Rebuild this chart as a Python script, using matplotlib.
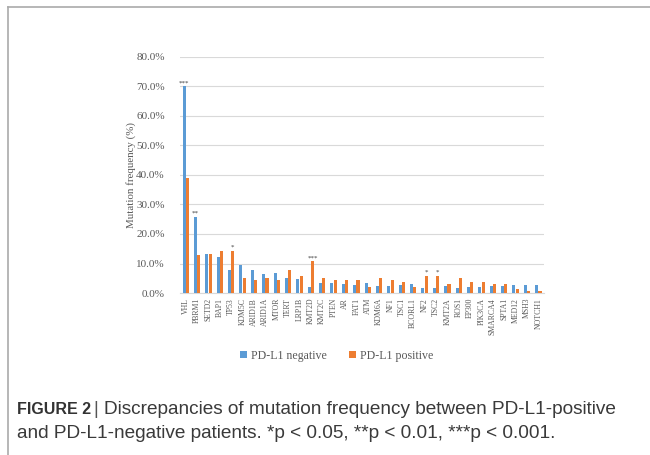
import matplotlib.pyplot as plt
from matplotlib.lines import Line2D
from matplotlib.ticker import PercentFormatter
import numpy as np

genes = ['VHL', 'PBRM1', 'SETD2', 'BAP1', 'TP53', 'KDM5C', 'ARID1B', 'ARID1A',
         'MTOR', 'TERT', 'LRP1B', 'KMT2D', 'KMT2C', 'PTEN', 'AR', 'FAT1', 'ATM',
         'KDM6A', 'NF1', 'TSC1', 'BCORL1', 'NF2', 'TSC2', 'KMT2A', 'ROS1',
         'EP300', 'PIK3CA', 'SMARCA4', 'SPTA1', 'MED12', 'MSH3', 'NOTCH1']

# mutation frequency (%)
neg = [70.0, 25.9, 13.1, 12.1, 7.8, 9.5, 7.8, 6.6, 6.8, 5.2, 4.6, 2.1, 3.4,
       3.5, 3.2, 2.8, 3.5, 2.3, 2.5, 2.8, 3.2, 1.7, 1.7, 2.5, 1.7, 1.9, 1.9,
       2.3, 2.3, 2.6, 2.8, 2.8]
pos = [38.8, 12.9, 13.1, 14.2, 14.2, 5.0, 4.3, 5.0, 4.3, 7.9, 5.8, 10.7, 5.0,
       4.4, 4.4, 4.4, 2.1, 5.1, 4.4, 3.7, 2.1, 5.9, 5.9, 2.9, 5.1, 3.6, 3.6,
       2.9, 2.9, 1.3, 0.6, 0.6]

# significance marks: (gene, series, label)
stars = [('VHL', 'neg', '***'), ('PBRM1', 'neg', '**'), ('TP53', 'pos', '*'),
         ('KMT2D', 'pos', '***'), ('NF2', 'pos', '*'), ('TSC2', 'pos', '*')]

blue = '#5B9BD5'
orange = '#ED7D31'
txt = '#595959'
serif = ['Liberation Serif', 'DejaVu Serif']

fig = plt.figure(figsize=(6.5, 4.55), dpi=100)
ax = fig.add_axes([0.277, 0.356, 0.56, 0.519])

x = np.arange(len(genes))
w = 0.27
ax.bar(x - 0.145, neg, w, color=blue, label='PD-L1 negative', zorder=3)
ax.bar(x + 0.145, pos, w, color=orange, label='PD-L1 positive', zorder=3)

for g, s, lab in stars:
    i = genes.index(g)
    if s == 'neg':
        xx, yy = i - 0.145, neg[i]
    else:
        xx, yy = i + 0.145, pos[i]
    ax.text(xx, yy + 0.4, lab, ha='center', va='bottom', fontsize=5,
            color='#404040', family=serif)

ax.set_xlim(-0.5, len(genes) - 0.5)
ax.set_ylim(0, 80)
ax.yaxis.set_major_formatter(PercentFormatter(decimals=1))
ax.set_yticks(np.arange(0, 81, 10))
ax.grid(axis='y', color='#d9d9d9', linewidth=0.8, zorder=0)
ax.set_axisbelow(True)
for sp in ['top', 'right', 'left']:
    ax.spines[sp].set_visible(False)
ax.spines['bottom'].set_color('#d9d9d9')
ax.tick_params(axis='both', length=0, colors=txt)
ax.tick_params(axis='y', pad=11)
ax.set_xticks(x)
ax.set_xticklabels(genes, rotation=90, fontsize=5.6, family=serif, color=txt)
for t in ax.get_yticklabels():
    t.set_fontsize(8)
    t.set_family(serif)
ax.set_ylabel('Mutation frequency (%)', fontsize=7.8, family=serif, color=txt,
              labelpad=0)

ax.legend(loc='center', bbox_to_anchor=(0.43, -0.265), ncol=2, frameon=False,
          prop={'family': serif, 'size': 8.6}, labelcolor=txt,
          handlelength=0.6, handleheight=0.6, handletextpad=0.3,
          columnspacing=1.9)

# panel border (top and left only)
fig.add_artist(Line2D([8 / 650, 8 / 650], [0, 1 - 6.5 / 455],
                      transform=fig.transFigure, color='#aaaaaa', lw=1.2))
fig.add_artist(Line2D([8 / 650, 1], [1 - 6.5 / 455, 1 - 6.5 / 455],
                      transform=fig.transFigure, color='#aaaaaa', lw=1.2))

sans = ['Liberation Sans', 'DejaVu Sans']
fig.text(17 / 650, 1 - 410 / 455, 'FIGURE 2', fontsize=11.5, weight='bold',
         family=sans, color='#333333', va='center')
fig.text(93 / 650, 1 - 410 / 455, '|', fontsize=13, family=sans,
         color='#555555', va='center')
fig.text(104 / 650, 1 - 410 / 455,
         'Discrepancies of mutation frequency between PD-L1-positive',
         fontsize=13.7, family=sans, color='#3a3a3a', va='center')
fig.text(17 / 650, 1 - 433 / 455,
         'and PD-L1-negative patients. *p < 0.05, **p < 0.01, ***p < 0.001.',
         fontsize=13.7, family=sans, color='#3a3a3a', va='center')

fig.savefig('out.png', dpi=100)
